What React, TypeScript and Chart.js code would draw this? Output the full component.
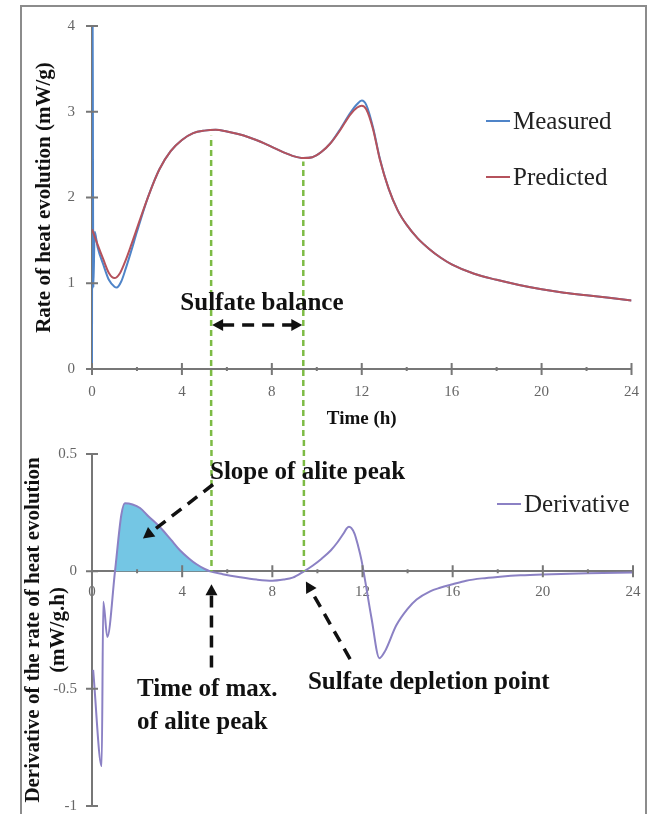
import { useEffect, useRef } from "react";
import { Chart, registerables } from "chart.js";

Chart.register(...registerables);

// ---------- data ----------
const measuredTime = [0, 0.02, 0.06, 0.12, 0.25, 0.5, 0.75, 1.0, 1.1, 1.3, 1.5, 1.75, 2.0, 2.5, 3.0, 3.5, 4.0, 4.5, 5.0, 5.5, 6.0, 6.5, 7.0, 7.5, 8.0, 8.5, 9.0, 9.4, 9.8, 10.2, 10.6, 11.0, 11.5, 11.8, 12.0, 12.2, 12.5, 12.8, 13.2, 13.6, 14.0, 14.5, 15.0, 15.5, 16.0, 17.0, 18.0, 19.0, 20.0, 21.0, 22.0, 23.0, 24.0];
const measuredRate = [0, 5, 0.95, 1.6, 1.42, 1.22, 1.04, 0.96, 0.95, 1.02, 1.17, 1.38, 1.6, 2.01, 2.33, 2.54, 2.67, 2.75, 2.78, 2.79, 2.77, 2.74, 2.7, 2.65, 2.59, 2.53, 2.48, 2.46, 2.47, 2.53, 2.63, 2.78, 2.99, 3.09, 3.13, 3.08, 2.82, 2.46, 2.1, 1.85, 1.68, 1.52, 1.4, 1.3, 1.22, 1.11, 1.04, 0.98, 0.93, 0.89, 0.86, 0.83, 0.8];

const predictedTime = [0, 0.25, 0.5, 0.75, 1.0, 1.25, 1.5, 1.75, 2.0, 2.25, 2.5, 2.75, 3.0, 3.5, 4.0, 4.5, 5.0, 5.5, 6.0, 6.5, 7.0, 7.5, 8.0, 8.5, 9.0, 9.4, 9.8, 10.2, 10.6, 11.0, 11.5, 11.8, 12.0, 12.2, 12.5, 12.8, 13.2, 13.6, 14.0, 14.5, 15.0, 15.5, 16.0, 17.0, 18.0, 19.0, 20.0, 21.0, 22.0, 23.0, 24.0];
const predictedRate = [1.63, 1.45, 1.28, 1.12, 1.06, 1.12, 1.27, 1.45, 1.64, 1.83, 2.01, 2.18, 2.33, 2.54, 2.67, 2.75, 2.78, 2.79, 2.77, 2.74, 2.7, 2.65, 2.59, 2.53, 2.48, 2.46, 2.47, 2.53, 2.63, 2.77, 2.97, 3.05, 3.07, 3.03, 2.8, 2.45, 2.1, 1.85, 1.68, 1.52, 1.4, 1.3, 1.22, 1.11, 1.04, 0.98, 0.93, 0.89, 0.86, 0.83, 0.8];

const derivTime = [0.05, 0.43, 0.5, 0.68, 1.02, 1.3, 1.46, 1.8, 2.13, 2.5, 3.0, 3.5, 3.9, 4.3, 4.64, 5.0, 5.24, 5.8, 6.57, 7.3, 8.0, 8.5, 8.9, 9.4, 9.8, 10.2, 10.6, 10.9, 11.15, 11.3, 11.4, 11.5, 11.65, 11.8, 11.95, 12.1, 12.4, 12.75, 13.0, 13.5, 14.0, 14.4, 15.0, 15.44, 16.0, 16.6, 17.3, 18.1, 19.0, 20.0, 22.0, 24.0];
const derivValue = [-0.42, -0.83, -0.13, -0.28, 0.0, 0.24, 0.29, 0.285, 0.27, 0.235, 0.19, 0.135, 0.09, 0.055, 0.03, 0.01, 0.0, -0.012, -0.025, -0.035, -0.04, -0.035, -0.027, 0.0, 0.025, 0.055, 0.09, 0.125, 0.16, 0.183, 0.19, 0.185, 0.16, 0.11, 0.05, -0.03, -0.2, -0.37, -0.34, -0.23, -0.16, -0.12, -0.085, -0.07, -0.055, -0.04, -0.03, -0.023, -0.017, -0.013, -0.008, -0.005];

const timeTicks = [0, 4, 8, 12, 16, 20, 24];
const timeMinorTicks = [2, 6, 10, 14, 18, 22];
const rateTicks = [0, 1, 2, 3, 4];
const derivTicks = [-1, -0.5, 0, 0.5];

// time of max. of alite peak, sulfate depletion point
const markerTimes = [5.3, 9.4];
const markerTopRates = [2.72, 2.42];
const slopeRange = [1.02, 5.24];

// ---------- styles ----------
const SERIF = '"Liberation Serif", "Times New Roman", serif';
const AXIS = "#777777";
const GREEN = "#7dbb45";
const INK = "#111111";
const SPLIT_Y = 440;
const CW = 653;
const CH = 830;

const pts = (xs: number[], ys: number[]) => xs.map((x, i) => ({ x, y: ys[i] }));

function crossTicks(ctx: any, xs: any, ys: any, axisValue: number, yTicks: number[]) {
  const ay = ys.getPixelForValue(axisValue);
  const ax = xs.getPixelForValue(0);
  ctx.strokeStyle = AXIS;
  ctx.lineWidth = 2;
  ctx.setLineDash([]);
  ctx.beginPath();
  timeTicks.forEach((t) => {
    const px = xs.getPixelForValue(t);
    ctx.moveTo(px, ay - 6);
    ctx.lineTo(px, ay + 6);
  });
  timeMinorTicks.forEach((t) => {
    const px = xs.getPixelForValue(t);
    ctx.moveTo(px, ay - 2);
    ctx.lineTo(px, ay + 2);
  });
  yTicks.forEach((v) => {
    const py = ys.getPixelForValue(v);
    ctx.moveTo(ax - 6, py);
    ctx.lineTo(ax + 6, py);
  });
  ctx.stroke();
}

function head(ctx: any, x: number, y: number, ang: number) {
  const L = 11, W = 6;
  const c = Math.cos(ang), s = Math.sin(ang);
  ctx.beginPath();
  ctx.moveTo(x, y);
  ctx.lineTo(x - L * c + W * s, y - L * s - W * c);
  ctx.lineTo(x - L * c - W * s, y - L * s + W * c);
  ctx.closePath();
  ctx.fill();
}

function arrow(ctx: any, x1: number, y1: number, x2: number, y2: number, startHead: boolean, endHead: boolean) {
  const ang = Math.atan2(y2 - y1, x2 - x1);
  const c = Math.cos(ang), s = Math.sin(ang);
  const sx = startHead ? x1 + 10 * c : x1;
  const sy = startHead ? y1 + 10 * s : y1;
  const ex = endHead ? x2 - 10 * c : x2;
  const ey = endHead ? y2 - 10 * s : y2;
  ctx.strokeStyle = INK;
  ctx.fillStyle = INK;
  ctx.lineWidth = 3.5;
  ctx.setLineDash([12, 8]);
  ctx.lineDashOffset = 0;
  ctx.beginPath();
  ctx.moveTo(sx, sy);
  ctx.lineTo(ex, ey);
  ctx.stroke();
  ctx.setLineDash([]);
  if (endHead) head(ctx, x2, y2, ang);
  if (startHead) head(ctx, x1, y1, ang + Math.PI);
}

function legend(ctx: any, chart: any, x: number, rows: number[]) {
  const items = chart.data.datasets.filter((d: any) => d.inLegend !== false);
  ctx.setLineDash([]);
  items.forEach((d: any, i: number) => {
    const y = rows[i];
    ctx.strokeStyle = d.borderColor;
    ctx.lineWidth = 2;
    ctx.beginPath();
    ctx.moveTo(x, y);
    ctx.lineTo(x + 24, y);
    ctx.stroke();
    ctx.fillStyle = "#222";
    ctx.font = `25px ${SERIF}`;
    ctx.textAlign = "left";
    ctx.textBaseline = "middle";
    ctx.fillText(d.label, x + 27, y + 1);
  });
}

function label(ctx: any, text: string, x: number, y: number, align: string) {
  ctx.fillStyle = INK;
  ctx.font = `bold 25px ${SERIF}`;
  ctx.textAlign = align;
  ctx.textBaseline = "middle";
  ctx.fillText(text, x, y);
}

const topDecor = {
  id: "topDecor",
  afterDraw(chart: any) {
    const { ctx } = chart;
    const xs = chart.scales.x, ys = chart.scales.y;
    ctx.save();
    crossTicks(ctx, xs, ys, 0, rateTicks);
    ctx.strokeStyle = GREEN;
    ctx.lineWidth = 2.5;
    ctx.setLineDash([6, 4]);
    markerTimes.forEach((t, i) => {
      const px = xs.getPixelForValue(t);
      const y0 = ys.getPixelForValue(markerTopRates[i]);
      ctx.lineDashOffset = y0;
      ctx.beginPath();
      ctx.moveTo(px, y0);
      ctx.lineTo(px, SPLIT_Y);
      ctx.stroke();
    });
    label(ctx, "Sulfate balance", xs.getPixelForValue(7.56), ys.getPixelForValue(0.76), "center");
    const ay = ys.getPixelForValue(0.513);
    arrow(ctx, xs.getPixelForValue(markerTimes[0]) + 1, ay, xs.getPixelForValue(markerTimes[1]) - 1, ay, true, true);
    legend(ctx, chart, 486, [121, 177]);
    ctx.restore();
  },
};

const bottomDecor = {
  id: "bottomDecor",
  afterDraw(chart: any) {
    const { ctx } = chart;
    const xs = chart.scales.x, ys = chart.scales.y;
    ctx.save();
    crossTicks(ctx, xs, ys, 0, derivTicks);
    ctx.strokeStyle = GREEN;
    ctx.lineWidth = 2.5;
    ctx.setLineDash([6, 4]);
    markerTimes.forEach((t) => {
      const px = xs.getPixelForValue(t);
      ctx.lineDashOffset = SPLIT_Y;
      ctx.beginPath();
      ctx.moveTo(px, SPLIT_Y);
      ctx.lineTo(px, ys.getPixelForValue(0));
      ctx.stroke();
    });
    const X = (t: number) => xs.getPixelForValue(t);
    const Y = (v: number) => ys.getPixelForValue(v);
    label(ctx, "Slope of alite peak", X(5.235), Y(0.421), "left");
    arrow(ctx, X(5.37), Y(0.37), X(2.26), Y(0.14), false, true);
    label(ctx, "Time of max.", X(2.0), Y(-0.502), "left");
    label(ctx, "of alite peak", X(2.0), Y(-0.643), "left");
    arrow(ctx, X(markerTimes[0]), Y(-0.41), X(markerTimes[0]), Y(-0.055), false, true);
    label(ctx, "Sulfate depletion point", X(9.58), Y(-0.472), "left");
    arrow(ctx, X(11.45), Y(-0.374), X(9.49), Y(-0.043), false, true);
    legend(ctx, chart, 497, [504]);
    ctx.restore();
  },
};

const tickFont = { family: SERIF, size: 15 };

function topConfig(): any {
  return {
    type: "line",
    data: {
      datasets: [
        {
          label: "Measured",
          data: pts(measuredTime, measuredRate),
          borderColor: "#4f84c8",
          borderWidth: 2,
          pointRadius: 0,
          cubicInterpolationMode: "monotone",
          order: 2,
        },
        {
          label: "Predicted",
          data: pts(predictedTime, predictedRate),
          borderColor: "#b5525c",
          borderWidth: 2,
          pointRadius: 0,
          cubicInterpolationMode: "monotone",
          order: 1,
        },
      ],
    },
    options: {
      animation: false,
      responsive: false,
      devicePixelRatio: 1,
      events: [],
      layout: { padding: { left: 22, right: 20, top: 18, bottom: CH - 430 } },
      plugins: { legend: { display: false }, tooltip: { enabled: false } },
      scales: {
        x: {
          type: "linear",
          position: "bottom",
          min: 0,
          max: 24,
          afterBuildTicks: (s: any) => { s.ticks = timeTicks.map((v) => ({ value: v })); },
          afterFit: (s: any) => { s.height = 61; },
          grid: { display: false, drawTicks: false },
          border: { display: true, color: AXIS, width: 2 },
          ticks: { font: tickFont, color: "#666", padding: 14, maxRotation: 0, callback: (v: any) => String(v) },
          title: { display: true, text: "Time (h)", color: INK, font: { family: SERIF, size: 19, weight: "bold" }, padding: { top: 0, bottom: 0 } },
        },
        y: {
          type: "linear",
          min: 0,
          max: 4,
          afterBuildTicks: (s: any) => { s.ticks = rateTicks.map((v) => ({ value: v })); },
          afterFit: (s: any) => { s.width = 70; },
          grid: { display: false, drawTicks: false },
          border: { display: true, color: AXIS, width: 2 },
          ticks: { font: tickFont, color: "#666", padding: 17, callback: (v: any) => String(v) },
          title: { display: true, text: "Rate of heat evolution (mW/g)", color: INK, font: { family: SERIF, size: 21, weight: "bold" }, padding: { top: 10, bottom: 0 } },
        },
      },
    },
    plugins: [topDecor],
  };
}

function bottomConfig(): any {
  const fillIdx = derivTime.map((t, i) => i).filter((i) => derivTime[i] >= slopeRange[0] && derivTime[i] <= slopeRange[1]);
  return {
    type: "line",
    data: {
      datasets: [
        {
          label: "Derivative",
          data: pts(derivTime, derivValue),
          borderColor: "#8b81c4",
          borderWidth: 2,
          pointRadius: 0,
          cubicInterpolationMode: "monotone",
          order: 1,
        },
        {
          label: "Slope of alite peak",
          inLegend: false,
          data: fillIdx.map((i) => ({ x: derivTime[i], y: derivValue[i] })),
          borderWidth: 0,
          borderColor: "rgba(0,0,0,0)",
          backgroundColor: "#74c6e4",
          pointRadius: 0,
          fill: { value: 0 },
          cubicInterpolationMode: "monotone",
          order: 2,
        },
      ],
    },
    options: {
      animation: false,
      responsive: false,
      devicePixelRatio: 1,
      events: [],
      layout: { padding: { left: 22, right: 20, top: 454, bottom: CH - 807 } },
      plugins: { legend: { display: false }, tooltip: { enabled: false } },
      scales: {
        x: {
          type: "linear",
          position: { y: 0 },
          min: 0,
          max: 24,
          afterBuildTicks: (s: any) => { s.ticks = timeTicks.map((v) => ({ value: v })); },
          afterFit: (s: any) => { s.height = 0; },
          grid: { display: false, drawTicks: false },
          border: { display: true, color: AXIS, width: 2 },
          ticks: { font: tickFont, color: "#666", padding: 12, maxRotation: 0, callback: (v: any) => String(v) },
        },
        y: {
          type: "linear",
          min: -1,
          max: 0.5,
          afterBuildTicks: (s: any) => { s.ticks = derivTicks.map((v) => ({ value: v })); },
          afterFit: (s: any) => { s.width = 70; },
          grid: { display: false, drawTicks: false },
          border: { display: true, color: AXIS, width: 2 },
          ticks: { font: tickFont, color: "#666", padding: 15, callback: (v: any) => String(v) },
          title: {
            display: true,
            text: ["Derivative of the rate of heat evolution", "(mW/g.h)"],
            color: INK,
            font: { family: SERIF, size: 21, weight: "bold", lineHeight: 1.15 },
            padding: { top: 0, bottom: 0 },
          },
        },
      },
    },
    plugins: [bottomDecor],
  };
}

export default function App() {
  const topRef = useRef<HTMLCanvasElement>(null);
  const botRef = useRef<HTMLCanvasElement>(null);
  useEffect(() => {
    const top = new Chart(topRef.current as HTMLCanvasElement, topConfig());
    const bot = new Chart(botRef.current as HTMLCanvasElement, bottomConfig());
    return () => {
      top.destroy();
      bot.destroy();
    };
  }, []);
  const cv: any = { position: "absolute", left: 0, top: 0, width: CW, height: CH };
  return (
    <div style={{ position: "absolute", left: 0, top: 0, width: 653, height: 814, overflow: "hidden", background: "#fff" }}>
      <div style={{ position: "absolute", left: 20, top: 5, width: 623, height: 900, border: "2px solid #8c8c8c" }} />
      <canvas ref={topRef} width={CW} height={CH} style={cv} />
      <canvas ref={botRef} width={CW} height={CH} style={cv} />
    </div>
  );
}
